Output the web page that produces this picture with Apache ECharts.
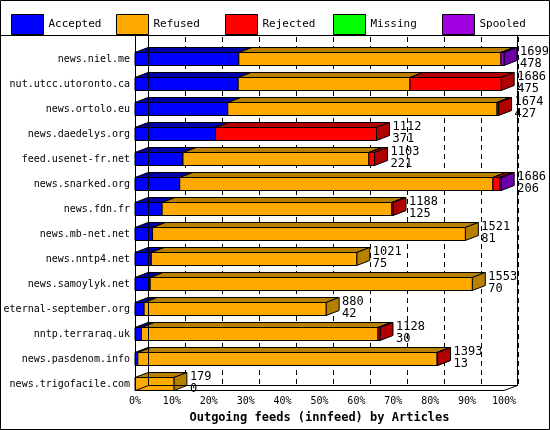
<!DOCTYPE html>
<html>
<head>
<meta charset="utf-8">
<script src="https://cdn.jsdelivr.net/npm/echarts@6/dist/echarts.min.js"></script>
<style>html,body{margin:0;padding:0;background:#fff}#chart{width:550px;height:430px}</style>
</head>
<body>
<div id="chart"></div>
<script>
// feeds, top to bottom
const feeds = ['news.niel.me', 'nut.utcc.utoronto.ca', 'news.ortolo.eu', 'news.daedelys.org', 'feed.usenet-fr.net',
  'news.snarked.org', 'news.fdn.fr', 'news.mb-net.net', 'news.nntp4.net', 'news.samoylyk.net',
  'eternal-september.org', 'nntp.terraraq.uk', 'news.pasdenom.info', 'news.trigofacile.com'];
const offered  = [1699, 1686, 1674, 1112, 1103, 1686, 1188, 1521, 1021, 1553, 880, 1128, 1393, 179];
const accepted = [478, 475, 427, 371, 221, 206, 125, 81, 75, 70, 42, 30, 13, 0];
const refused  = [1207, 791, 1240, 0, 856, 1442, 1058, 1440, 946, 1483, 838, 1089, 1378, 179];
const rejected = [0, 420, 7, 741, 26, 32, 5, 0, 0, 0, 0, 9, 2, 0];
const missing  = [0, 0, 0, 0, 0, 0, 0, 0, 0, 0, 0, 0, 0, 0];
const spooled  = [14, 0, 0, 0, 0, 6, 0, 0, 0, 0, 0, 0, 0, 0];
const xTicks = ['0%', '10%', '20%', '30%', '40%', '50%', '60%', '70%', '80%', '90%', '100%'];

const kinds = [
  { name: 'Accepted', vals: accepted, front: '#0000ff', dark: '#0000a8' },
  { name: 'Refused', vals: refused, front: '#ffaa00', dark: '#b88000' },
  { name: 'Rejected', vals: rejected, front: '#ff0000', dark: '#b00000' },
  { name: 'Missing', vals: missing, front: '#00ff00', dark: '#00b000' },
  { name: 'Spooled', vals: spooled, front: '#a000e0', dark: '#6c00a8' }
];
const maxOff = Math.max(...offered);
const DX = 13, DY = 5, H = 6.5;

const chart = echarts.init(document.getElementById('chart'));
const cum = feeds.map(() => 0);
const series = kinds.map(k => {
  const data = feeds.map((f, i) => {
    const a = cum[i] / maxOff * 100;
    cum[i] += k.vals[i];
    return [a, cum[i] / maxOff * 100, i];
  });
  return {
    type: 'custom', name: k.name, coordinateSystem: 'cartesian2d', xAxisIndex: 0, yAxisIndex: 0,
    itemStyle: { color: k.front }, data: data, z: 5,
    renderItem: (params, api) => {
      const s = api.coord([api.value(0), api.value(2)]);
      const e = api.coord([api.value(1), api.value(2)]);
      if (e[0] - s[0] < 0.3) return null;
      const x0 = s[0], x1 = e[0], yt = s[1] - H, yb = s[1] + H;
      const st = { stroke: '#000', lineWidth: 1 };
      return { type: 'group', children: [
        { type: 'polygon', shape: { points: [[x0, yt], [x0 + DX, yt - DY], [x1 + DX, yt - DY], [x1, yt]] }, style: Object.assign({ fill: k.dark }, st) },
        { type: 'polygon', shape: { points: [[x1, yt], [x1 + DX, yt - DY], [x1 + DX, yb - DY], [x1, yb]] }, style: Object.assign({ fill: k.dark }, st) },
        { type: 'rect', shape: { x: x0, y: yt, width: x1 - x0, height: yb - yt }, style: Object.assign({ fill: k.front }, st) }
      ] };
    }
  };
});
series.push({
  type: 'custom', xAxisIndex: 0, yAxisIndex: 0, z: 6, silent: true,
  data: feeds.map((f, i) => [offered[i] / maxOff * 100, i, offered[i], accepted[i]]),
  renderItem: (params, api) => {
    const p = api.coord([api.value(0), api.value(1)]);
    return { type: 'text', style: {
      x: p[0] + DX + 3, y: p[1] - 13, text: api.value(2) + '\n' + api.value(3),
      font: '12px "DejaVu Sans Mono"', lineHeight: 12, fill: '#000', textAlign: 'left', textVerticalAlign: 'top' } };
  }
});

const legendX = [6, 111, 220, 328, 437];
const line = (x1, y1, x2, y2) => ({ type: 'line', shape: { x1, y1, x2, y2 }, style: { stroke: '#000', lineWidth: 1 }, z: 10, silent: true });

chart.setOption({
  animation: false,
  backgroundColor: '#fff',
  legend: kinds.map((k, i) => ({
    data: [k.name], left: legendX[i], top: 9, icon: 'rect', itemWidth: 32, itemHeight: 20, itemGap: 8,
    selectedMode: false,
    itemStyle: { borderColor: '#000', borderWidth: 1 },
    textStyle: { fontFamily: 'DejaVu Sans Mono', fontSize: 11, color: '#000' }
  })),
  grid: [
    { left: 135, width: 369, top: 46.5, height: 350, outerBoundsMode: 'none', containLabel: false },
    { left: 148, width: 370, top: 37, height: 348, outerBoundsMode: 'none', containLabel: false }
  ],
  xAxis: [
    { type: 'value', gridIndex: 0, min: 0, max: 100, interval: 10, offset: -6,
      axisLine: { show: false }, axisTick: { show: false }, splitLine: { show: false },
      axisLabel: { formatter: v => xTicks[Math.round(v / 10)], fontFamily: 'DejaVu Sans Mono', fontSize: 10, color: '#000', margin: 6 },
      name: 'Outgoing feeds (innfeed) by Articles', nameLocation: 'middle', nameGap: 20,
      nameTextStyle: { fontFamily: 'DejaVu Sans Mono', fontSize: 12, fontWeight: 'bold', color: '#000' } },
    { type: 'value', gridIndex: 1, min: 0, max: 100, interval: 10,
      axisLine: { show: false }, axisTick: { show: false }, axisLabel: { show: false },
      splitLine: { show: true, lineStyle: { color: '#000', type: [5, 4], width: 1 } } }
  ],
  yAxis: [
    { type: 'category', gridIndex: 0, data: feeds, inverse: true,
      axisLine: { show: false }, axisTick: { show: false },
      axisLabel: { fontFamily: 'DejaVu Sans Mono', fontSize: 10, color: '#000', margin: 5 } },
    { type: 'value', gridIndex: 1, show: false }
  ],
  graphic: [
    { type: 'rect', shape: { x: 0.5, y: 0.5, width: 549, height: 429 }, style: { fill: null, stroke: '#000', lineWidth: 1 }, z: 10, silent: true },
    line(0, 35.5, 550, 35.5),
    line(135.5, 36, 135.5, 390.5),
    line(135, 390.5, 504, 390.5),
    line(148.5, 36, 148.5, 385.5),
    line(517.5, 36, 517.5, 385.5),
    line(135.5, 390.5, 148.5, 385.5),
    line(504, 390.5, 517.5, 385.5),
    line(148.5, 385.5, 517.5, 385.5)
  ],
  series: series
});
</script>
</body>
</html>
